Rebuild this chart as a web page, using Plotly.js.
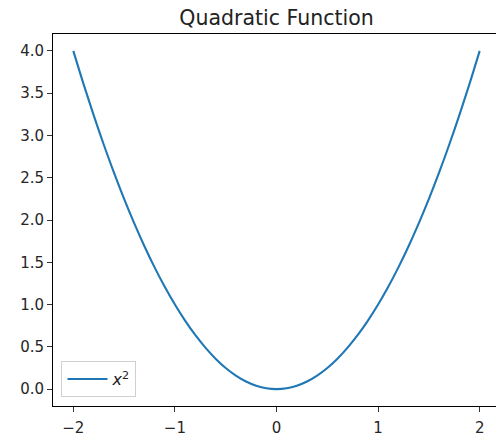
<!DOCTYPE html>
<html>
<head>
<meta charset="utf-8">
<script src="https://cdn.plot.ly/plotly-3.0.1.min.js"></script>
<style>
html,body{margin:0;padding:0;background:#fff;overflow:hidden;}
#chart{width:500px;height:438px;}
</style>
</head>
<body>
<div id="chart"></div>
<script>
var xValues = [-2.0,-1.9,-1.8,-1.7,-1.6,-1.5,-1.4,-1.3,-1.2,-1.1,-1.0,-0.9,-0.8,-0.7,-0.6,-0.5,-0.4,-0.3,-0.2,-0.1,0.0,
               0.1,0.2,0.3,0.4,0.5,0.6,0.7,0.8,0.9,1.0,1.1,1.2,1.3,1.4,1.5,1.6,1.7,1.8,1.9,2.0];
var yValues = [4.00,3.61,3.24,2.89,2.56,2.25,1.96,1.69,1.44,1.21,1.00,0.81,0.64,0.49,0.36,0.25,0.16,0.09,0.04,0.01,0.00,
               0.01,0.04,0.09,0.16,0.25,0.36,0.49,0.64,0.81,1.00,1.21,1.44,1.69,1.96,2.25,2.56,2.89,3.24,3.61,4.00];
var xTicks = [-2,-1,0,1,2];
var yTicks = [0.0,0.5,1.0,1.5,2.0,2.5,3.0,3.5,4.0];
var yTickLabels = ["0.0","0.5","1.0","1.5","2.0","2.5","3.0","3.5","4.0"];
var seriesName = "<i>x</i><sup>2</sup>";
var chartTitle = "Quadratic Function";

var font = "DejaVu Sans, sans-serif";
var trace = {
  x: xValues, y: yValues, type: "scatter", mode: "lines",
  line: {color: "#1f77b4", width: 2.1, shape: "spline"},
  name: seriesName, showlegend: true
};
var axisCommon = {
  showgrid: false, zeroline: false, showline: true, linecolor: "#000", linewidth: 1,
  mirror: true, ticks: "outside", ticklen: 5, tickwidth: 1, tickcolor: "#333",
  tickfont: {family: font, size: 15, color: "#262626"}
};
var layout = {
  width: 500, height: 438,
  margin: {l: 53, r: 0, t: 34, b: 32, pad: 0},
  paper_bgcolor: "#fff", plot_bgcolor: "#fff",
  title: {text: chartTitle, x: 0.5, xref: "paper", y: 1 - 18/438, yanchor: "middle",
          font: {family: font, size: 20.5, color: "#222"}},
  xaxis: Object.assign({}, axisCommon, {range: [-2.2, 2.2], tickvals: xTicks, ticklabelstandoff: 3}),
  yaxis: Object.assign({}, axisCommon, {range: [-0.2, 4.2], tickvals: yTicks, ticktext: yTickLabels}),
  legend: {x: 0.019, y: 0.024, xanchor: "left", yanchor: "bottom",
           bordercolor: "#d0d0d0", borderwidth: 1, bgcolor: "rgba(255,255,255,0.8)",
           itemwidth: 40,
           font: {family: font, size: 16, color: "#222"}},
  showlegend: true
};
Plotly.newPlot("chart", [trace], layout, {displayModeBar: false, staticPlot: true});
</script>
</body>
</html>
